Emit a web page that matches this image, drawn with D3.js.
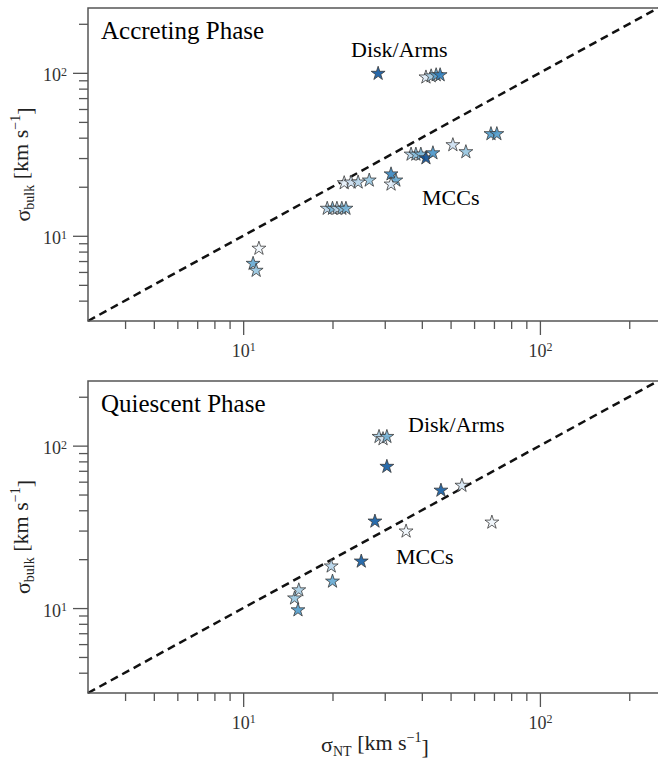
<!DOCTYPE html>
<html>
<head>
<meta charset="utf-8">
<script src="https://cdn.jsdelivr.net/npm/d3@7"></script>
<style>
  body { margin: 0; background: #fff; }
  svg { display: block; }
  svg text { font-family: "Times New Roman", "Liberation Serif", Tinos, "Nimbus Roman", "DejaVu Serif", serif; }
  .frame { fill: none; stroke: #555; stroke-width: 1.5; }
  .axis path { display: none; }
  .axis line { stroke: #555; stroke-width: 1.3; }
  .axis text { fill: #333; font-size: 18px; }
  .oneone { fill: none; stroke: #111; stroke-width: 2.5; stroke-dasharray: 8,5; }
  .star { stroke: #3a3a3a; stroke-width: 0.8; fill-opacity: 0.9; }
</style>
</head>
<body>
<script>
const WIDTH = 658;
const HEIGHT = 762;
const LEFT = 88;
const RIGHT = 658;

// axis limits and ticks
var axisDomain = [3, 250];
var majorTicks = [10, 100];
var minorTicks = [4, 5, 6, 7, 8, 9, 20, 30, 40, 50, 60, 70, 80, 90, 200];

// accreting phase: sigma_NT, sigma_bulk, colour level (0 = white, 1 = dark blue)
var accX = [28.5, 41.3, 43.0, 44.7, 46.1, 68.4, 71.6, 50.9, 56.3, 36.8, 38.2, 39.7, 41.3, 43.6,
            31.5, 32.7, 31.5, 21.9, 23.1, 24.4, 26.6, 19.2, 20.0, 20.7, 21.5, 22.2, 11.3, 10.8, 11.06];
var accY = [99, 94, 95.5, 97, 97, 42.2, 42.2, 36.1, 32.7, 31.6, 31.6, 31.6, 30.0, 32.2,
            23.9, 21.9, 20.7, 21.1, 21.3, 21.3, 21.9, 14.7, 14.7, 14.7, 14.7, 14.7, 8.36, 6.75, 6.12];
var accC = [0.92, 0.1, 0.35, 0.6, 0.75, 0.62, 0.62, 0.2, 0.4, 0.3, 0.45, 0.5, 0.97, 0.65,
            0.72, 0.55, 0.1, 0.05, 0.2, 0.3, 0.4, 0.3, 0.5, 0.3, 0.45, 0.5, 0.0, 0.55, 0.4];

// quiescent phase
var quiX = [28.7, 29.6, 30.5, 30.5, 46.4, 54.6, 68.9, 27.8, 35.4, 25.0, 19.8, 20.0, 14.9, 15.4, 15.3];
var quiY = [113.5, 110, 113.5, 74.3, 53.0, 56.8, 33.7, 34.2, 29.7, 19.4, 18.1, 14.6, 11.5, 12.9, 9.72];
var quiC = [0.35, 0.1, 0.5, 0.9, 0.9, 0.15, 0.0, 0.9, 0.0, 0.9, 0.3, 0.55, 0.4, 0.35, 0.62];

var panels = [
  {title: 'Accreting Phase', x: accX, y: accY, c: accC,
   top: 8, bottom: 321, disk: [351, 57], mcc: [422, 205]},
  {title: 'Quiescent Phase', x: quiX, y: quiY, c: quiC,
   top: 381, bottom: 693, disk: [408, 432], mcc: [396, 564]}
];

var xScale = d3.scaleLog().domain(axisDomain).range([LEFT, RIGHT]);
var color = function(v){ return d3.interpolateBlues(0.04 + 0.88*v); };

var svg = d3.select('body').append('svg')
  .attr('width', WIDTH)
  .attr('height', HEIGHT);

var powerLabel = function(sel){
  sel.each(function(d){
    var t = d3.select(this);
    var e = Math.round(Math.log10(d));
    t.text('10');
    t.append('tspan').attr('dy', '-0.45em').attr('font-size', '12px').text(e);
  });
};

var drawPanel = function(p){
  var yScale = d3.scaleLog().domain(axisDomain).range([p.bottom, p.top]);
  var g = svg.append('g');

  // 1:1 line
  g.append('path').classed('oneone', true)
    .attr('d', d3.line().x(function(d){ return xScale(d); }).y(function(d){ return yScale(d); })(axisDomain));

  // axes
  g.append('g').classed('axis', true)
    .attr('transform', 'translate(0,' + p.bottom + ')')
    .call(d3.axisBottom(xScale).tickValues(minorTicks).tickFormat('').tickSize(8));
  g.append('g').classed('axis', true)
    .attr('transform', 'translate(0,' + p.bottom + ')')
    .call(d3.axisBottom(xScale).tickValues(majorTicks).tickSize(14).tickPadding(9))
    .selectAll('text').call(powerLabel);
  g.append('g').classed('axis', true)
    .attr('transform', 'translate(' + LEFT + ',0)')
    .call(d3.axisLeft(yScale).tickValues(minorTicks).tickFormat('').tickSize(9));
  g.append('g').classed('axis', true)
    .attr('transform', 'translate(' + LEFT + ',0)')
    .call(d3.axisLeft(yScale).tickValues(majorTicks).tickSize(15).tickPadding(6))
    .selectAll('text').attr('dy', '0.45em').call(powerLabel);

  g.append('rect').classed('frame', true)
    .attr('x', LEFT).attr('y', p.top)
    .attr('width', RIGHT - LEFT + 5).attr('height', p.bottom - p.top);

  // stars
  var star = d3.symbol().type(d3.symbolStar).size(60);
  g.append('g').selectAll('path')
    .data(p.x.map(function(v, i){ return {x: v, y: p.y[i], c: p.c[i]}; }))
    .enter().append('path')
    .classed('star', true)
    .attr('transform', function(d){ return 'translate(' + xScale(d.x) + ',' + yScale(d.y) + ')'; })
    .attr('fill', function(d){ return color(d.c); })
    .attr('d', star);

  g.append('text').attr('x', 101).attr('y', p.top + 31)
    .attr('font-size', '25px').text(p.title);
  g.append('text').attr('x', p.disk[0]).attr('y', p.disk[1])
    .attr('font-size', '22px').text('Disk/Arms');
  g.append('text').attr('x', p.mcc[0]).attr('y', p.mcc[1])
    .attr('font-size', '22px').text('MCCs');

  // y label
  var yl = g.append('text')
    .attr('transform', 'translate(30,' + ((p.top + p.bottom) / 2) + ') rotate(-90)')
    .attr('text-anchor', 'middle').attr('font-size', '22px').attr('fill', '#222');
  yl.append('tspan').text('σ');
  yl.append('tspan').attr('font-size', '14px').attr('dy', '0.3em').text('bulk');
  yl.append('tspan').attr('dy', '-0.3em').text(' [km s');
  yl.append('tspan').attr('font-size', '14px').attr('dy', '-0.55em').text('−1');
  yl.append('tspan').attr('dy', '0.55em').text(']');
};

panels.forEach(drawPanel);

// x label
var xl = svg.append('text')
  .attr('x', 375).attr('y', 752)
  .attr('text-anchor', 'middle').attr('font-size', '22px').attr('fill', '#222');
xl.append('tspan').text('σ');
xl.append('tspan').attr('font-size', '14px').attr('dy', '0.3em').text('NT');
xl.append('tspan').attr('dy', '-0.3em').text(' [km s');
xl.append('tspan').attr('font-size', '14px').attr('dy', '-0.55em').text('−1');
xl.append('tspan').attr('dy', '0.55em').text(']');
</script>
</body>
</html>
